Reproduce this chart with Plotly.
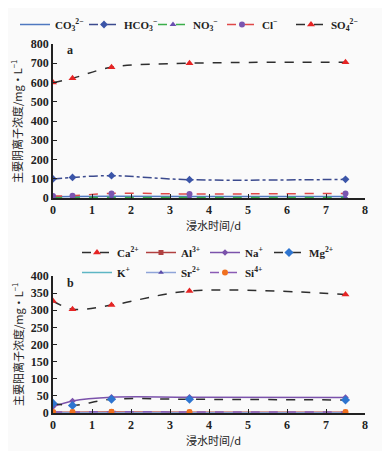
import plotly.graph_objects as go

# ---- data ----
days = [0, 0.5, 1.5, 3.5, 7.5]

# anions (panel a)
co3 = [7, 8, 9, 8, 8]
hco3 = [99, 107, 116, 95, 97]
no3 = [2, 2, 2, 2, 2]
cl = [10, 12, 24, 21, 24]
so4 = [600, 622, 679, 700, 705]

# cations (panel b)
ca = [327, 303, 315, 356, 346]
al = [2, 2, 3, 2, 2]
na = [18, 35, 46, 46, 45]
mg = [28, 22, 40, 40, 38]
k = [0.5, 0.5, 0.5, 0.5, 0.5]
sr = [1, 1, 1, 1, 1]
si = [3, 3, 4, 3, 3]

x_ticks = [0, 1, 2, 3, 4, 5, 6, 7, 8]
ya_ticks = [0, 100, 200, 300, 400, 500, 600, 700, 800]
yb_ticks = [0, 50, 100, 150, 200, 250, 300, 350, 400]

# page is 390x451; the html body has an 8px margin, so the figure is 382x443
OFF = 8
FW, FH = 390 - OFF, 451 - OFF


def fx(px):
    return (px - OFF) / FW


def fy(py):
    return 1 - (py - OFF) / FH


fig = go.Figure()


def add(y, name, color, dash, msym, mcolor, msize, xa, ya, legend):
    fig.add_trace(go.Scatter(
        x=days, y=y, name=name, mode="lines+markers",
        line=dict(color=color, width=1.5, dash=dash, shape="spline"),
        marker=dict(symbol=msym, color=mcolor, size=msize),
        xaxis=xa, yaxis=ya, legend=legend))


# panel a
add(co3, "CO<sub>3</sub><sup>2−</sup>", "#4F78C0", "solid", "cross-thin", "#4F78C0", 6, "x", "y", "legend")
add(hco3, "HCO<sub>3</sub><sup>−</sup>", "#3B4A8E", "dashdot", "diamond", "#3B55A8", 6, "x", "y", "legend")
add(no3, "NO<sub>3</sub><sup>−</sup>", "#3AAE4A", "dash", "triangle-up", "#6A4FB0", 6, "x", "y", "legend")
add(cl, "Cl<sup>−</sup>", "#E04848", "dash", "circle", "#7A55B0", 6, "x", "y", "legend")
add(so4, "SO<sub>4</sub><sup>2−</sup>", "#2E2E2E", "dash", "triangle-up", "#E52424", 7, "x", "y", "legend")

# panel b
add(ca, "Ca<sup>2+</sup>", "#2E2E2E", "dash", "triangle-up", "#E52424", 7, "x2", "y2", "legend2")
add(al, "Al<sup>3+</sup>", "#B04040", "solid", "square", "#B04040", 5, "x2", "y2", "legend2")
add(na, "Na<sup>+</sup>", "#7B52AB", "solid", "diamond", "#7B52AB", 5, "x2", "y2", "legend2")
add(mg, "Mg<sup>2+</sup>", "#2E2E2E", "dash", "diamond", "#2E75D0", 7, "x2", "y2", "legend2")
add(k, "K<sup>+</sup>", "#5DB6C4", "solid", "cross-thin", "#5DB6C4", 6, "x2", "y2", "legend3")
add(sr, "Sr<sup>2+</sup>", "#8FA4D8", "solid", "triangle-up", "#5A4BA8", 5, "x2", "y2", "legend3")
add(si, "Si<sup>4+</sup>", "#8A5BB5", "dash", "circle", "#F07020", 6, "x2", "y2", "legend3")

xdom = [fx(53), fx(365)]
tickfont = dict(family="Liberation Serif", size=12, color="#222", weight="bold")
axcommon = dict(showline=True, linecolor="#222", linewidth=1.6, showgrid=False,
                zeroline=False, tickfont=tickfont, tickcolor="#222", automargin=False,
                ticks="inside", ticklen=4)
legfont = dict(family="Liberation Serif", size=11, color="#222", weight="bold")

fig.update_layout(
    width=FW, height=FH, margin=dict(l=0, r=0, t=0, b=0, autoexpand=False),
    paper_bgcolor="#FAFAFA", plot_bgcolor="#FAFAFA",
    xaxis=dict(domain=xdom, range=[0, 8], tickvals=x_ticks, anchor="y", **axcommon),
    yaxis=dict(domain=[fy(198), fy(44)], range=[0, 800], tickvals=ya_ticks,
               anchor="x", **axcommon),
    xaxis2=dict(domain=xdom, range=[0, 8], tickvals=x_ticks, anchor="y2", **axcommon),
    yaxis2=dict(domain=[fy(413), fy(276)], range=[0, 400], tickvals=yb_ticks,
                anchor="x2", **axcommon),
    legend=dict(orientation="h", x=fx(15), y=fy(10), xanchor="left", yanchor="top",
                font=legfont, bgcolor="rgba(0,0,0,0)", itemwidth=30,
                entrywidth=24, entrywidthmode="pixels"),
    legend2=dict(orientation="h", x=fx(77), y=fy(238), xanchor="left", yanchor="top",
                 font=legfont, bgcolor="rgba(0,0,0,0)", entrywidth=19,
                 entrywidthmode="pixels", itemwidth=30),
    legend3=dict(orientation="h", x=fx(77), y=fy(258), xanchor="left", yanchor="top",
                 font=legfont, bgcolor="rgba(0,0,0,0)", entrywidth=19,
                 entrywidthmode="pixels", itemwidth=30),
    showlegend=True,
)

cjk = dict(family="Noto Sans CJK SC", size=11, color="#222")
ann = dict(xref="paper", yref="paper", showarrow=False, xanchor="center", yanchor="middle")
fig.add_annotation(text="主要阴离子浓度/mg·L<sup>−1</sup>", x=fx(17), y=fy(122),
                   textangle=-90, font=cjk, **ann)
fig.add_annotation(text="主要阳离子浓度/mg·L<sup>−1</sup>", x=fx(17), y=fy(345),
                   textangle=-90, font=cjk, **ann)
fig.add_annotation(text="浸水时间/d", x=fx(214), y=fy(225), font=cjk, **ann)
fig.add_annotation(text="浸水时间/d", x=fx(214), y=fy(440), font=cjk, **ann)
lab = dict(family="Liberation Serif", size=12, color="#222", weight="bold")
fig.add_annotation(text="a", x=fx(70), y=fy(50), font=lab, **ann)
fig.add_annotation(text="b", x=fx(70), y=fy(283), font=lab, **ann)

fig.write_html("out.html")
